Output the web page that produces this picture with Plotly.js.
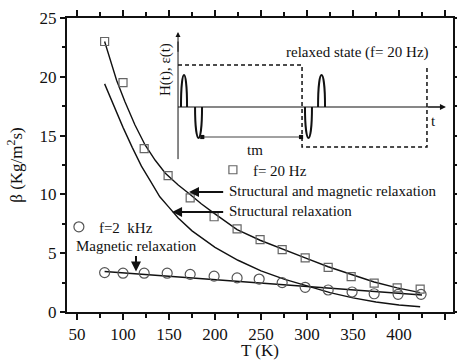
<!DOCTYPE html>
<html>
<head>
<meta charset="utf-8">
<script src="https://cdn.plot.ly/plotly-3.0.1.min.js"></script>
<style>html,body{margin:0;padding:0;background:#fff;}#chart{width:457px;height:360px;}</style>
</head>
<body>
<div id="chart"></div>
<script>
// measured points, f = 20 Hz (squares)
const T20 = [80, 100, 123, 149, 173, 199, 224, 249, 273, 298, 323, 348, 373, 398, 423];
const beta20 = [23.0, 19.5, 13.9, 11.6, 9.7, 8.1, 7.06, 6.15, 5.3, 4.6, 3.8, 3.0, 2.45, 2.05, 1.95];
// measured points, f = 2 kHz (circles)
const T2k = [80, 100, 123, 148, 173, 199, 224, 248, 273, 298, 323, 349, 373, 399, 424];
const beta2k = [3.35, 3.3, 3.3, 3.3, 3.2, 3.05, 2.9, 2.8, 2.5, 2.1, 1.87, 1.7, 1.55, 1.5, 1.5];
// fit curve: structural and magnetic relaxation
const Tsm = [80, 86, 93, 102, 113, 124, 135, 146, 160, 172, 185, 198, 224, 249, 274, 298, 323, 348, 373, 398, 423];
const betaSM = [23.0, 21.4, 19.7, 17.9, 15.9, 14.2, 12.9, 11.8, 10.8, 10.05, 9.2, 8.45, 7.0, 6.1, 5.3, 4.6, 3.85, 3.2, 2.55, 2.05, 1.65];
// fit curve: structural relaxation
const Ts = [80, 90, 100, 110, 120, 130, 140, 150, 160, 175, 200, 225, 250, 275, 300, 325, 350, 375, 400, 423];
const betaS = [19.4, 17.5, 15.7, 14.0, 12.4, 11.1, 9.8, 8.9, 8.0, 6.9, 5.5, 4.4, 3.5, 2.8, 2.2, 1.65, 1.2, 0.85, 0.6, 0.45];
// fit line: magnetic relaxation
const Tm = [80, 140, 200, 260, 303, 360, 425];
const betaM = [3.45, 3.1, 2.75, 2.4, 2.12, 1.8, 1.45];

const xTicks = [50, 100, 150, 200, 250, 300, 350, 400, 450];
const yTicks = [0, 5, 10, 15, 20, 25];

const FONT = "'Liberation Serif', 'Times New Roman', serif";
const INK = '#111';
const XR = [39.1, 458.7];
const YR = [0, 25];

const traces = [
  {x: Tsm, y: betaSM, mode: 'lines', line: {color: INK, width: 1.4}, showlegend: false, hoverinfo: 'skip'},
  {x: Ts, y: betaS, mode: 'lines', line: {color: INK, width: 1.4}, showlegend: false, hoverinfo: 'skip'},
  {x: Tm, y: betaM, mode: 'lines', line: {color: INK, width: 1.4}, showlegend: false, hoverinfo: 'skip'},
  {x: T20, y: beta20, mode: 'markers', name: 'f= 20 Hz', legend: 'legend',
   marker: {symbol: 'square-open', size: 8, color: '#666', line: {width: 1.2}}},
  {x: T2k, y: beta2k, mode: 'markers', name: 'f=2\u00a0 kHz', legend: 'legend2',
   marker: {symbol: 'circle-open', size: 10, color: '#555', line: {width: 1.2}}}
];

// inset helpers (layout geometry, not data)
const b0 = 17.43;
function pulse(xa, xb, peak) {
  const c = b0 + (peak - b0) * 4 / 3;
  return {type: 'path', xref: 'x', yref: 'y', line: {color: INK, width: 2},
    path: `M ${xa},${b0} C ${xa},${c} ${xb},${c} ${xb},${b0}`};
}
const dash = {color: INK, width: 1.5, dash: '4px,3px'};
const shapes = [
  {type: 'line', xref: 'x', yref: 'y', x0: 159.8, y0: 13.0, x1: 159.8, y1: 23.0, line: {color: INK, width: 1}},
  {type: 'line', xref: 'x', yref: 'y', x0: 159.8, y0: b0, x1: 447, y1: b0, line: {color: INK, width: 1.2}},
  {type: 'path', xref: 'x', yref: 'y', line: dash, path: 'M 159.8,21.0 L 294.6,21.0 L 294.6,14.03 L 430.4,14.03 L 430.4,21.0'},
  pulse(163.0, 169.6, 20.15),
  pulse(178.3, 185.9, 14.8),
  pulse(297.8, 305.4, 14.8),
  pulse(312.0, 319.6, 20.15)
];

const tf = {family: FONT, size: 15, color: INK};
const annotations = [
  {x: 159.8, y: 23.8, ax: 159.8, ay: 22.0, axref: 'x', ayref: 'y', xref: 'x', yref: 'y', text: '', showarrow: true, arrowhead: 2, arrowsize: 1, arrowwidth: 1, arrowcolor: INK},
  {x: 451, y: b0, ax: 430, ay: b0, axref: 'x', ayref: 'y', xref: 'x', yref: 'y', text: '', showarrow: true, arrowhead: 2, arrowsize: 1, arrowwidth: 1.2, arrowcolor: INK},
  {x: 293.5, y: 14.88, ax: 184.5, ay: 14.88, axref: 'x', ayref: 'y', xref: 'x', yref: 'y', text: '', showarrow: true, arrowhead: 7, startarrowhead: 7, arrowside: 'end+start', arrowsize: 1.3, arrowwidth: 0.8, arrowcolor: INK},
  {x: 243.5, y: 13.75, xref: 'x', yref: 'y', text: 'tm', showarrow: false, font: tf},
  {x: 437, y: 16.2, xref: 'x', yref: 'y', text: 't', showarrow: false, font: tf},
  {x: 355.4, y: 22.1, xref: 'x', yref: 'y', text: 'relaxed state (f= 20 Hz)', showarrow: false, font: tf},
  {x: 146, y: 20.6, xref: 'x', yref: 'y', text: 'H(t), ε(t)', textangle: -90, showarrow: false, font: tf},
  {x: 171.7, y: 10.2, ax: 210.5, ay: 10.2, axref: 'x', ayref: 'y', xref: 'x', yref: 'y', text: '', showarrow: true, arrowhead: 2, arrowsize: 1, arrowwidth: 2, arrowcolor: INK},
  {x: 213.5, y: 10.3, xref: 'x', yref: 'y', xanchor: 'left', text: 'Structural and magnetic relaxation', showarrow: false, font: tf},
  {x: 153.3, y: 8.5, ax: 210.5, ay: 8.5, axref: 'x', ayref: 'y', xref: 'x', yref: 'y', text: '', showarrow: true, arrowhead: 2, arrowsize: 1, arrowwidth: 2, arrowcolor: INK},
  {x: 213.5, y: 8.6, xref: 'x', yref: 'y', xanchor: 'left', text: 'Structural relaxation', showarrow: false, font: tf},
  {x: 114.1, y: 3.45, ax: 114.1, ay: 4.9, axref: 'x', ayref: 'y', xref: 'x', yref: 'y', text: '', showarrow: true, arrowhead: 2, arrowsize: 1, arrowwidth: 2, arrowcolor: INK},
  {x: 114.7, y: 5.65, xref: 'x', yref: 'y', text: 'Magnetic relaxation', showarrow: false, font: tf}
];

const axisLine = {showline: true, linecolor: INK, linewidth: 2, zeroline: false, showgrid: false, mirror: 'allticks'};

const layout = {
  width: 457, height: 360,
  margin: {l: 67, r: 4, t: 18, b: 48},
  paper_bgcolor: '#fff', plot_bgcolor: '#fff',
  font: {family: FONT, size: 17, color: INK},
  xaxis: Object.assign({}, axisLine, {
    range: XR, tickmode: 'array', tickvals: xTicks, ticktext: xTicks.map(String),
    ticks: 'outside', ticklen: 6, tickwidth: 2, tickcolor: INK,
    minor: {dtick: 25, tick0: 25, ticks: 'outside', ticklen: 4, tickwidth: 2, tickcolor: INK},
    title: {text: 'T (K)', font: {family: FONT, size: 17, color: INK}},
    tickfont: {family: FONT, size: 17, color: INK}
  }),
  yaxis: Object.assign({}, axisLine, {
    range: YR, tickmode: 'array', tickvals: yTicks, ticktext: yTicks.map(String),
    ticks: 'outside', ticklen: 5, tickwidth: 2, tickcolor: INK,
    minor: {dtick: 2.5, tick0: 0, ticks: 'outside', ticklen: 3, tickwidth: 2, tickcolor: INK},
    title: {text: 'β (Kg/m<sup>2</sup>s)', font: {family: FONT, size: 17, color: INK}},
    tickfont: {family: FONT, size: 17, color: INK}
  }),
  legend: {x: 0.378, y: 0.483, xanchor: 'left', yanchor: 'middle', bgcolor: 'rgba(0,0,0,0)',
    font: {family: FONT, size: 15, color: INK}, borderwidth: 0, tracegroupgap: 0},
  legend2: {x: -0.021, y: 0.289, xanchor: 'left', yanchor: 'middle', bgcolor: 'rgba(0,0,0,0)',
    font: {family: FONT, size: 15, color: INK}, borderwidth: 0},
  shapes: shapes,
  annotations: annotations,
  showlegend: true
};

Plotly.newPlot('chart', traces, layout, {displayModeBar: false, staticPlot: true});
</script>
</body>
</html>
